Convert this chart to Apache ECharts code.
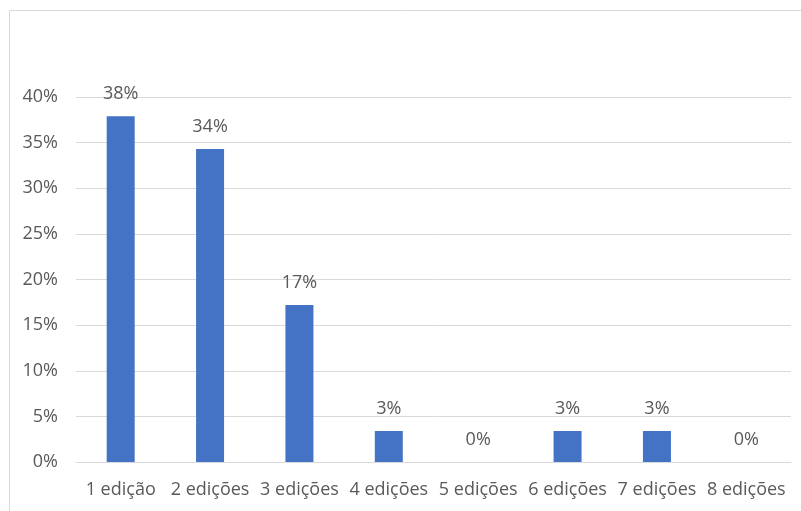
<!DOCTYPE html>
<html>
<head>
<meta charset="utf-8">
<script src="https://cdn.jsdelivr.net/npm/echarts@6/dist/echarts.min.js"></script>
<style>
  html, body { margin: 0; padding: 0; background: #fff; }
  #chart { width: 801px; height: 511px; }
</style>
</head>
<body>
<div id="chart"></div>
<script>
// Share of respondents by number of editions attended
const categories = ['1 edição', '2 edições', '3 edições', '4 edições', '5 edições', '6 edições', '7 edições', '8 edições'];
const shares = [0.379, 0.343, 0.172, 0.034, 0, 0.034, 0.034, 0];
const yTicks = { min: 0, max: 0.4, interval: 0.05 };

const textColor = '#595959';
const fontFamily = '"Open Sans", "Liberation Sans", sans-serif';
const fontSize = 18;

const chart = echarts.init(document.getElementById('chart'), null, { renderer: 'canvas' });
chart.setOption({
  backgroundColor: '#ffffff',
  animation: false,
  textStyle: { fontFamily: fontFamily, color: textColor },
  graphic: [{
    type: 'rect',
    silent: true,
    shape: { x: 9.5, y: 10.5, width: 900, height: 700 },
    style: { fill: 'none', stroke: '#d9d9d9', lineWidth: 1 }
  }],
  grid: { left: 76, right: 10, top: 97, bottom: 49, containLabel: false },
  xAxis: {
    type: 'category',
    data: categories,
    axisLine: { show: true, lineStyle: { color: '#d9d9d9' } },
    axisTick: { show: false },
    axisLabel: { color: textColor, fontSize: fontSize, fontFamily: fontFamily, margin: 19, interval: 0 }
  },
  yAxis: {
    type: 'value',
    min: yTicks.min,
    max: yTicks.max,
    interval: yTicks.interval,
    axisLine: { show: false },
    axisTick: { show: false },
    splitLine: { lineStyle: { color: '#d9d9d9', width: 1 } },
    axisLabel: {
      color: textColor, fontSize: fontSize, fontFamily: fontFamily, margin: 18,
      formatter: v => Math.round(v * 100) + '%'
    }
  },
  series: [{
    type: 'bar',
    data: shares,
    barWidth: 28,
    itemStyle: { color: '#4472c4' },
    label: {
      show: true,
      position: 'top',
      distance: 13,
      color: textColor,
      fontSize: fontSize,
      fontFamily: fontFamily,
      formatter: p => Math.round(p.value * 100) + '%'
    }
  }]
});
</script>
</body>
</html>
